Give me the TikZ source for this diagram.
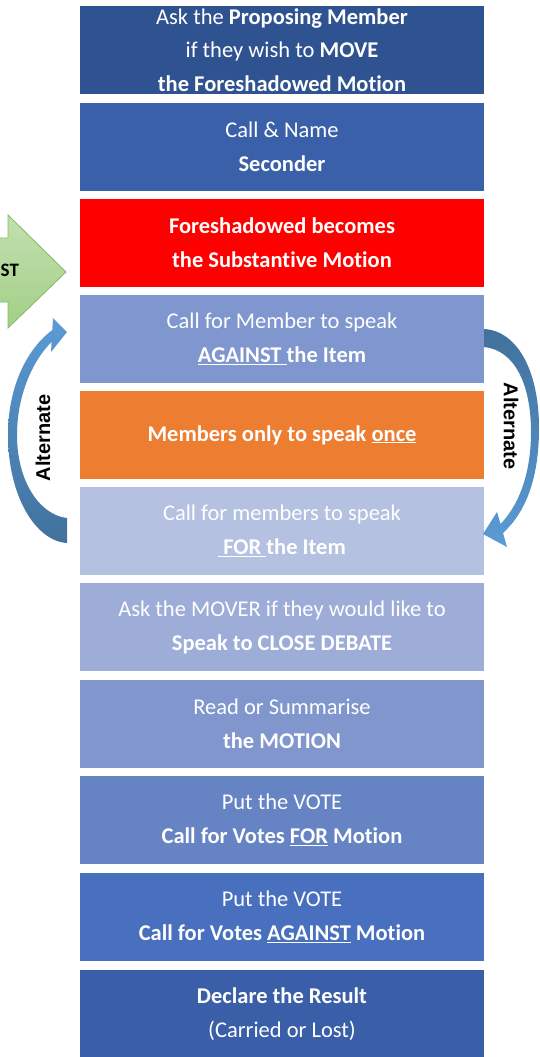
\documentclass[tikz,border=0pt]{standalone}
\usepackage{fontspec}
\setmainfont{Carlito}[Ligatures=NoCommon]
\newfontfamily\altfont{Liberation Sans}
\definecolor{cA}{HTML}{2F5290}
\definecolor{cB}{HTML}{3A60A9}
\definecolor{cC}{HTML}{FF0000}
\definecolor{cD}{HTML}{8096CE}
\definecolor{cE}{HTML}{ED7D31}
\definecolor{cF}{HTML}{B4C1E0}
\definecolor{cG}{HTML}{9DADD8}
\definecolor{cH}{HTML}{8096CD}
\definecolor{cI}{HTML}{6683C4}
\definecolor{cJ}{HTML}{4870BE}
\definecolor{cK}{HTML}{3A5FA8}
\definecolor{greenTop}{HTML}{C3E0B0}
\definecolor{greenBot}{HTML}{A2CF86}
\definecolor{greenLine}{HTML}{82BA66}
\definecolor{arrLight}{HTML}{5B9BD5}
\definecolor{arrDark}{HTML}{41719C}
\begin{document}
\begin{tikzpicture}[x=1pt,y=-1pt,
  stepbox/.style={minimum width=404pt, minimum height=88pt, inner sep=0pt,
    align=center, text=white, font=\fontsize{22.5}{34}\selectfont},
  altlabel/.style={font=\altfont\bfseries\fontsize{20}{24}\selectfont,
    text=black, inner sep=0pt},
  bluearrow/.style={draw=none}]
\useasboundingbox (0,0) rectangle (540,1057);
\clip (0,0) rectangle (540,1057);

\node[stepbox, fill=cA, font=\fontsize{22.5}{33.5}\selectfont] (b1) at (282,50)
  {Ask the \textbf{Proposing Member}\\if they wish to \textbf{MOVE}\\\textbf{the Foreshadowed Motion}};
\node[stepbox, fill=cB] (b2) at (282,147) {Call \& Name\\\textbf{Seconder}};
\node[stepbox, fill=cC] (b3) at (282,243) {\textbf{Foreshadowed becomes}\\\textbf{the Substantive Motion}};
\node[stepbox, fill=cD] (b4) at (282,339) {Call for Member to speak\\\textbf{\underline{AGAINST\ }the Item}};
\node[stepbox, fill=cE] (b5) at (282,435) {\textbf{Members only to speak \underline{once}}};
\node[stepbox, fill=cF] (b6) at (282,531) {Call for members to speak\\\textbf{\underline{\ FOR\ }the Item}};
\node[stepbox, fill=cG] (b7) at (282,627) {Ask the MOVER if they would like to\\\textbf{Speak to CLOSE DEBATE}};
\node[stepbox, fill=cH] (b8) at (282,724) {Read or Summarise\\\textbf{the MOTION}};
\node[stepbox, fill=cI] (b9) at (282,820) {Put the VOTE\\\textbf{Call for Votes \underline{FOR} Motion}};
\node[stepbox, fill=cJ] (b10) at (282,917) {Put the VOTE\\\textbf{Call for Votes \underline{AGAINST} Motion}};
\node[stepbox, fill=cK] (b11) at (282,1014) {\textbf{Declare the Result}\\(Carried or Lost)};

% green block arrow
\shade[top color=greenTop, bottom color=greenBot, draw=greenLine, line width=0.8pt]
  (-5,238) -- (8,238) -- (8,215) -- (66,272) -- (8,328) -- (8,302) -- (-5,302) -- cycle;
\node[anchor=west, inner sep=0pt, font=\bfseries\fontsize{19}{22}\selectfont] (st) at (0.5,270) {ST};

% left curved arrow (up)
\shade[bluearrow, top color=arrLight, bottom color=arrDark]
  (67,543) .. controls (35,541) and (8,495) .. (8,435)
  .. controls (8,385) and (28,348) .. (52.3,330)
  -- (53,318) -- (67,332) -- (51,352) -- (51.6,342)
  .. controls (33,360) and (17,395) .. (17,435)
  .. controls (17,482) and (40,515) .. (67,518) -- cycle;
\node[altlabel, rotate=90] (altL) at (43,438) {Alternate};

% right curved arrow (down)
\shade[bluearrow, top color=arrDark, bottom color=arrLight]
  (484,329) .. controls (518,331) and (539,372) .. (539,428)
  .. controls (539,478) and (526,512) .. (503,533)
  -- (507,547) -- (483,534) -- (497,512) -- (500.5,524)
  .. controls (518,506) and (531,475) .. (531,432)
  .. controls (531,385) and (515,350) .. (484,347) -- cycle;
\node[altlabel, rotate=-90] (altR) at (511,426) {Alternate};
\end{tikzpicture}
\end{document}
